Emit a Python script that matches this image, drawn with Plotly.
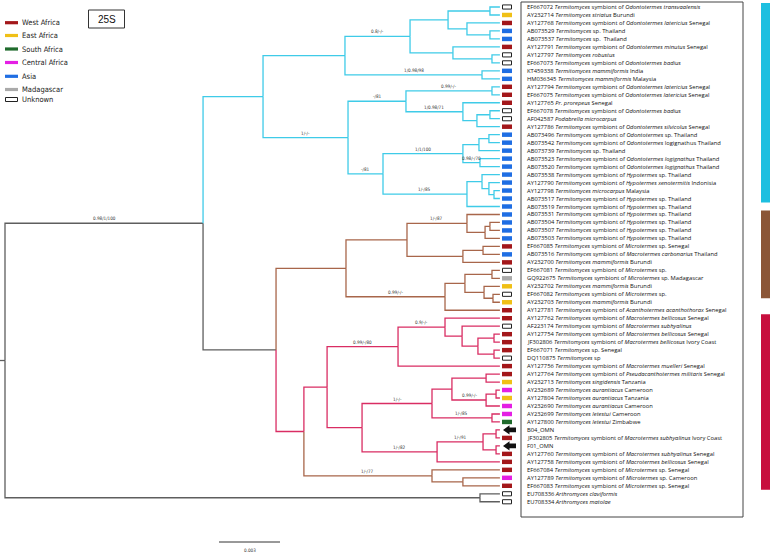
import plotly.graph_objects as go

# ---------------- data ----------------
accessions = [
    "EF667072", "AY232714", "AY127768", "AB073529", "AB073537", "AY127791", "AY127797", "EF667073",
    "KT459338", "HM036345", "AY127794", "EF667075", "AY127765", "EF667078", "AF042587", "AY127786",
    "AB073496", "AB073542", "AB073739", "AB073523", "AB073520", "AB073538", "AY127790", "AY127798",
    "AB073517", "AB073519", "AB073531", "AB073504", "AB073507", "AB073503", "EF667085", "AB073516",
    "AY232700", "EF667081", "GQ922675", "AY232702", "EF667082", "AY232703", "AY127781", "AY127762",
    "AF223174", "AY127754", "JF302806", "EF667071", "DQ110875", "AY127756", "AY127764", "AY232713",
    "AY232689", "AY127804", "AY232690", "AY232699", "AY127800", "B04_OMN", "JF302805", "F01_OMN",
    "AY127760", "AY127758", "EF667084", "AY127789", "EF667083", "EU708336", "EU708334",
]
T = "<i>Termitomyces</i>"
descriptions = [
    T + " symbiont of <i>Odontotermes transvaalensis</i>",
    "<i>Termitomyces striatus</i> Burundi",
    T + " symbiont of <i>Odontotermes latericius</i> Senegal",
    T + " sp. Thailand",
    T + " sp.  Thailand",
    T + " symbiont of <i>Odontotermes minutus</i> Senegal",
    "<i>Termitomyces robustus</i>",
    T + " symbiont of <i>Odontotermes badius</i>",
    "<i>Termitomyces mammiformis</i> India",
    "<i>Termitomyces mammiformis</i> Malaysia",
    T + " symbiont of <i>Odontotermes latericius</i> Senegal",
    T + " symbiont of <i>Odontotermes latericius</i> Senegal",
    "<i>Pr. prorepeus</i> Senegal",
    T + " symbiont of <i>Odontotermes badius</i>",
    "<i>Podabrella microcarpus</i>",
    T + " symbiont of <i>Odontotermes silvicolus</i> Senegal",
    T + " symbiont of <i>Odontotermes</i> sp. Thailand",
    T + " symbiont of <i>Odontotermes</i> logignathus Thailand",
    T + " sp. Thailand",
    T + " symbiont of <i>Odontotermes logignathus</i> Thailand",
    T + " symbiont of <i>Odontotermes logignathus</i> Thailand",
    T + " symbiont of <i>Hypotermes</i> sp. Thailand",
    T + " symbiont of <i>Hypotermes xenotermitis</i> Indonisia",
    "<i>Termitomyces microcarpus</i> Malaysia",
    T + " symbiont of <i>Hypotermes</i> sp. Thailand",
    T + " symbiont of <i>Hypotermes</i> sp. Thailand",
    T + " symbiont of <i>Hypotermes</i> sp. Thailand",
    T + " symbiont of <i>Hypotermes</i> sp. Thailand",
    T + " symbiont of <i>Hypotermes</i> sp. Thailand",
    T + " symbiont of <i>Hypotermes</i> sp. Thailand",
    T + " symbiont of <i>Microtermes</i> sp. Senegal",
    T + " symbiont of <i>Macrotermes carbonarius</i> Thailand",
    "<i>Termitomyces mammiformis</i> Burundi",
    T + " symbiont of <i>Microtermes</i> sp.",
    T + " symbiont of <i>Microtermes</i> sp. Madagascar",
    "<i>Termitomyces mammiformis</i> Burundi",
    T + " symbiont of <i>Microtermes</i> sp.",
    "<i>Termitomyces mammiformis</i> Burundi",
    T + " symbiont of <i>Acanthotermes acanthothorax</i> Senegal",
    T + " symbiont of <i>Macrotermes bellicosus</i> Senegal",
    T + " symbiont of <i>Macrotermes subhyalinus</i>",
    T + " symbiont of <i>Macrotermes bellicosus</i> Senegal",
    T + " symbiont of <i>Macrotermes bellicosus</i> Ivory Coast",
    T + " sp. Senegal",
    T + " sp",
    T + " symbiont of <i>Macrotermes muelleri</i> Senegal",
    T + " symbiont of <i>Pseudacanthotermes militaris</i> Senegal",
    "<i>Termitomyces singidensis</i> Tanzania",
    "<i>Termitomyces aurantiacus</i> Cameroon",
    "<i>Termitomyces aurantiacus</i> Tanzania",
    "<i>Termitomyces aurantiacus</i> Cameroon",
    "<i>Termitomyces letestui</i> Cameroon",
    "<i>Termitomyces letestui</i> Zimbabwe",
    "",
    T + " symbiont of <i>Macrotermes subhyalinus</i> Ivory Coast",
    "",
    T + " symbiont of <i>Macrotermes subhyalinus</i> Senegal",
    T + " symbiont of <i>Macrotermes bellicosus</i> Senegal",
    T + " symbiont of <i>Microtermes</i> sp. Senegal",
    T + " symbiont of <i>Microtermes</i> sp. Cameroon",
    T + " symbiont of <i>Microtermes</i> sp. Senegal",
    "<i>Arthromyces claviformis</i>",
    "<i>Arthromyces matolae</i>",
]
# W West, E East, S South, C Central Africa, A Asia, M Madagascar, U Unknown, X this study (arrow)
regions = list("UEWAAWUUAAWWWUUWAAAAAAAAAAAAAAWAWUMEUEWWUWWWUWWECECCSXWXWWWCWUU")

legend_names = ["West Africa", "East Africa", "South Africa", "Central Africa", "Asia", "Madagascar", "Unknown"]
legend_codes = ["W", "E", "S", "C", "A", "M", "U"]
region_colors = {"W": "#a3171a", "E": "#f0c016", "S": "#1f6b2c", "C": "#e41fe4",
                 "A": "#1f6ee3", "M": "#aaaaaa", "U": "#ffffff"}

CYAN, BROWN, CRIMSON, GRAY = "#3fcbe8", "#a8664a", "#d92d63", "#5e5e5e"
# clade bars on the right: (first tip, last tip, colour)
clade_bars = [(0, 24, "#1dbfe0"), (26, 36, "#8b5637"), (39, 60, "#c70f3e")]

DEPTH_UNIT = 0.001      # node depths below are in units of 0.001 substitutions/site
SCALE_LEN = 3           # scale bar length (0.003)
TIP_D = 24.34           # aligned tip depth


def N(d, *kids, s=None, col=None):
    return {"d": d, "kids": list(kids), "s": s, "col": col}


tree = N(0.0,
    N(9.74,
      N(12.69,
        N(16.72,
          N(19.92,
            N(21.79, N(23.85, 0, 1), N(22.72, 2, N(23.85, 3, 4))),
            N(22.03, 5, N(23.95, 6, 7)),
            s="0.8/-/-"),
          N(23.46, 8, 9, s="1/0.98/98")),
        N(16.87,
          N(19.72,
            N(23.95, 10, 11, s="0.99/-/-"),
            N(22.52, 12, N(23.21, N(23.85, 13, 14), 15), s="1/0.98/71"),
            s="-/81"),
          N(18.59,
            N(22.52, N(23.31, N(23.80, 16, 17), 18), N(23.36, 19, 20, s="0.98/-/70"), s="1/1/100"),
            N(22.72, N(23.46, 21, N(23.80, 22, N(24.05, 23, 24))), 25, s="1/-/85"),
            s="-/81"),
          s="1/-/-"),
        col=CYAN),
      N(13.33,
        N(16.77,
          N(19.77,
            N(22.72, 26, N(23.61, N(23.85, 27, 28), 29), s="1/-/87"),
            N(22.52, N(23.51, 30, 31), 32)),
          N(21.64,
            N(22.62, N(23.95, 33, 34), N(23.56, 35, N(24.00, 36, 37))),
            38, s="0.99/-/-"),
          col=BROWN),
        N(14.70,
          N(15.84,
            N(19.33,
              N(21.64, 39, N(22.48, 40, N(23.26, N(24.05, 41, 42), N(24.05, 43, 44))), s="0.9/-/-"),
              45, s="0.99/-/80"),
            N(17.56,
              N(21.00,
                N(21.98, N(23.66, 46, 47), N(23.66, N(24.15, 48, 49), 50, s="0.99/-/-")),
                N(23.95, 51, 52, s="1/-/85"),
                s="1/-/-"),
              N(21.25,
                N(23.51, N(24.15, 53, 54), N(24.15, 55, 56), s="1/-/91"),
                57, s="1/-/82")),
            col=CRIMSON),
          N(21.00, 58, N(22.52, 59, 60), s="1/-/77", col=BROWN),
          col=CRIMSON)),
      s="0.98/1/100"),
    N(23.36, 61, 62),
    col=GRAY)

# ---------------- layout helpers (pixel placement) ----------------
W, H = 770, 554
ROOT_PX = 5
PX_PER_UNIT = 61 / SCALE_LEN
TIP0_PX, TIP_STEP_PX = 7, 7.98


def fx(px):
    return (px - ROOT_PX) / PX_PER_UNIT


def fy(py):
    return (py - TIP0_PX) / TIP_STEP_PX


def set_y(node):
    if isinstance(node, int):
        return float(node)
    ys = [set_y(k) for k in node["kids"]]
    node["y"] = (ys[0] + ys[-1]) / 2
    return node["y"]


set_y(tree)

segs = {}
annotations = []
LABEL_FONT = dict(family="Liberation Sans Narrow, DejaVu Sans Condensed, sans-serif", size=4.6, color="#333333")


def add_seg(col, xs, ys):
    s = segs.setdefault(col, ([], []))
    s[0].extend(xs + [None])
    s[1].extend(ys + [None])


def draw(node, px_, py_, inherited):
    if isinstance(node, int):
        x, y, col = TIP_D, float(node), inherited
    else:
        x, y = node["d"], node["y"]
        col = node["col"] or inherited
    add_seg(col, [px_, px_, x], [py_, y, y])
    if not isinstance(node, int):
        if node["s"]:
            annotations.append(dict(x=(px_ + x) / 2, y=y, text=node["s"], showarrow=False,
                                    yshift=4.5, font=LABEL_FONT, xanchor="center", yanchor="middle"))
        for k in node["kids"]:
            draw(k, x, y, col)


root_y = tree["y"]
add_seg(GRAY, [fx(0), tree["d"]], [root_y, root_y])
for k in tree["kids"]:
    draw(k, tree["d"], root_y, tree["col"])

fig = go.Figure()
for col, (xs, ys) in segs.items():
    fig.add_trace(go.Scatter(x=xs, y=ys, mode="lines", line=dict(color=col, width=1.3),
                             hoverinfo="skip", showlegend=False))

shapes = []
# tip markers and labels
for i, (acc, desc, reg) in enumerate(zip(accessions, descriptions, regions)):
    if reg == "X":
        x_tip, x_base, x_end = fx(503), fx(509.5), fx(516)
        hh, bh = 4.6 / TIP_STEP_PX, 2.4 / TIP_STEP_PX
        path = (f"M {x_tip} {i} L {x_base} {i - hh} L {x_base} {i - bh} L {x_end} {i - bh} "
                f"L {x_end} {i + bh} L {x_base} {i + bh} L {x_base} {i + hh} Z")
        shapes.append(dict(type="path", path=path, xref="x", yref="y", fillcolor="#111111",
                           line=dict(width=0)))
    elif reg == "U":
        shapes.append(dict(type="rect", xref="x", yref="y", x0=fx(502.5), x1=fx(511.5),
                           y0=i - 0.26, y1=i + 0.26, fillcolor="white", line=dict(color="#222222", width=1)))
    else:
        shapes.append(dict(type="rect", xref="x", yref="y", x0=fx(502), x1=fx(512),
                           y0=i - 0.28, y1=i + 0.28, fillcolor=region_colors[reg], line=dict(width=0)))
    text = acc + (" " + desc if desc else "")
    annotations.append(dict(x=fx(526), y=i, text=text, showarrow=False, xanchor="left", yanchor="middle",
                            font=dict(family="Open Sans, sans-serif", size=5.8, color="#111111"),
                            borderpad=0))

# label box
shapes.append(dict(type="rect", xref="x", yref="y", x0=fx(521), x1=fx(743), y0=fy(2), y1=fy(517),
                   line=dict(color="#444444", width=1), fillcolor="rgba(0,0,0,0)"))

# clade bars
for first, last, col in clade_bars:
    shapes.append(dict(type="rect", xref="x", yref="y", x0=fx(761), x1=fx(770), y0=first - 0.5, y1=last + 0.5,
                       fillcolor=col, line=dict(width=0)))

# legend
legend_y_px = [22.7, 35.5, 49, 62.5, 76.3, 89.5, 99.5]
for name, code, py in zip(legend_names, legend_codes, legend_y_px):
    y = fy(py)
    if code == "U":
        shapes.append(dict(type="rect", xref="x", yref="y", x0=fx(5.5), x1=fx(17.5),
                           y0=y - 2 / TIP_STEP_PX, y1=y + 2 / TIP_STEP_PX,
                           fillcolor="white", line=dict(color="#222222", width=1)))
    else:
        shapes.append(dict(type="rect", xref="x", yref="y", x0=fx(5), x1=fx(18),
                           y0=y - 1.6 / TIP_STEP_PX, y1=y + 1.6 / TIP_STEP_PX,
                           fillcolor=region_colors[code], line=dict(width=0)))
    annotations.append(dict(x=fx(19.5), y=y, text=name, showarrow=False, xanchor="left", yanchor="middle",
                            font=dict(family="Liberation Sans Narrow, DejaVu Sans Condensed, sans-serif",
                                      size=7.5, color="#222222")))

# 25S box
shapes.append(dict(type="rect", xref="x", yref="y", x0=fx(88.5), x1=fx(124.5), y0=fy(10), y1=fy(28),
                   line=dict(color="#333333", width=1), fillcolor="white"))
annotations.append(dict(x=fx(106.5), y=fy(19), text="25S", showarrow=False, xanchor="center", yanchor="middle",
                        font=dict(family="Liberation Sans, sans-serif", size=10, color="#111111")))

# scale bar
sb_x0, sb_y = fx(219), fy(542)
fig.add_trace(go.Scatter(x=[sb_x0, sb_x0 + SCALE_LEN], y=[sb_y, sb_y], mode="lines",
                         line=dict(color="#333333", width=1), hoverinfo="skip", showlegend=False))
annotations.append(dict(x=sb_x0 + SCALE_LEN / 2, y=fy(550), text=f"{SCALE_LEN * DEPTH_UNIT:.3f}",
                        showarrow=False, xanchor="center", yanchor="middle", font=LABEL_FONT))

fig.update_layout(
    width=W, height=H, autosize=False,
    margin=dict(l=0, r=0, t=0, b=0),
    paper_bgcolor="white", plot_bgcolor="white",
    xaxis=dict(range=[fx(0), fx(W)], visible=False, fixedrange=True),
    yaxis=dict(range=[fy(H), fy(0)], visible=False, fixedrange=True),
    shapes=shapes, annotations=annotations,
)
fig.write_html("out.html", config={"displayModeBar": False},
               post_script="document.body.style.margin='0px';")
